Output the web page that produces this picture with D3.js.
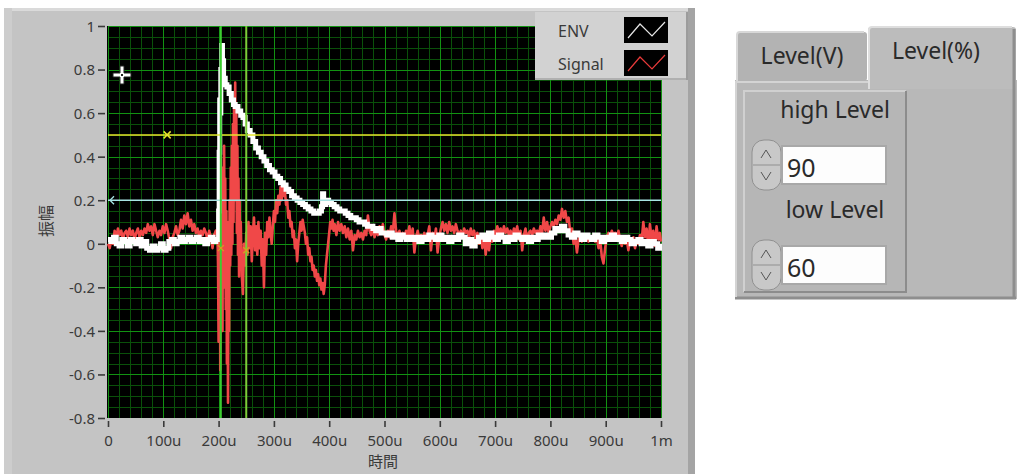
<!DOCTYPE html>
<html><head><meta charset="utf-8">
<script src="https://cdn.jsdelivr.net/npm/d3@7/dist/d3.min.js"></script>
<style>
html,body{margin:0;padding:0;background:#fff;}
svg{display:block;}
text{font-family:"Noto Sans","Noto Sans CJK JP",sans-serif;}
</style>
</head><body>
<svg id="c" width="1024" height="474"></svg>
<script>
// ---------------- data ----------------
const xTickValues = [0,100,200,300,400,500,600,700,800,900,1000];          // microseconds
const xTickLabels = ["0","100u","200u","300u","400u","500u","600u","700u","800u","900u","1m"];
const yTickValues = [-0.8,-0.6,-0.4,-0.2,0,0.2,0.4,0.6,0.8,1];
const yTickLabels = ["-0.8","-0.6","-0.4","-0.2","0","0.2","0.4","0.6","0.8","1"];
const seriesNames = ["ENV","Signal"];
const xTitle = "時間";
const yTitle = "振幅";
const cursorTimes = [204, 250];
const cursorMarkValues = [-0.02, -0.03];
const levelLines = [0.5, 0.2];
const levelMarkTime = 107;
const tabLabels = ["Level(V)","Level(%)"];
const controlLabels = ["high Level","low Level"];
const controlValues = ["90","60"];

// [time (us), amplitude]
const envPoints = [
[0,0.02],[5,0.01],[10,0.03],[15,0.00],[20,-0.01],[25,0.02],[30,0.01],[35,-0.01],[40,0.02],[45,0.01],
[50,0.00],[55,0.02],[60,-0.01],[65,0.01],[70,-0.02],[75,-0.03],[80,-0.01],[85,-0.03],[90,-0.02],[95,0.00],
[100,-0.03],[105,-0.02],[110,0.01],[115,0.02],[120,0.00],[125,0.01],[130,0.03],[135,0.01],[140,0.02],[145,0.03],
[150,0.01],[155,0.02],[160,0.03],[165,0.01],[170,0.02],[175,0.00],[180,0.02],[185,0.03],[190,0.01],[195,0.02],
[199,0.02],[200,0.15],[201,0.42],[202,0.66],[203,0.60],[204,0.80],[206,0.91],[207,0.84],[209,0.76],[212,0.73],
[215,0.72],[219,0.69],[223,0.66],[227,0.64],[230,0.63],[235,0.61],[240,0.59],[244,0.58],[248,0.55],[252,0.52],
[257,0.50],[262,0.47],[267,0.44],[272,0.42],[277,0.40],[282,0.38],[287,0.36],[292,0.34],[297,0.33],[302,0.31],
[307,0.30],[312,0.28],[317,0.27],[322,0.25],[327,0.24],[332,0.22],[337,0.21],[342,0.20],[347,0.19],[352,0.18],
[357,0.17],[362,0.16],[367,0.15],[372,0.14],[377,0.14],[382,0.15],[386,0.17],[388,0.23],[390,0.18],[394,0.20],
[399,0.19],[404,0.18],[409,0.17],[414,0.16],[419,0.15],[424,0.15],[429,0.14],[434,0.13],[439,0.12],[444,0.12],
[449,0.11],[454,0.10],[459,0.10],[464,0.09],[469,0.08],[474,0.08],[479,0.07],[484,0.06],[489,0.07],[494,0.05],
[499,0.05],[504,0.04],[509,0.05],[514,0.03],[519,0.04],[524,0.02],[529,0.04],[534,0.03],[539,0.02],[544,0.03],
[550,0.02],[556,0.03],[562,0.01],[568,0.03],[574,0.02],[580,0.04],[586,0.03],[592,0.02],[598,0.04],[604,0.02],
[610,0.03],[616,0.01],[622,0.03],[628,0.02],[634,0.04],[640,0.03],[646,0.00],[652,0.02],[658,-0.01],[664,0.01],
[670,0.03],[676,0.04],[682,0.02],[688,0.05],[694,0.03],[700,0.02],[706,0.04],[712,0.03],[718,0.01],[724,0.03],
[730,0.02],[736,0.04],[742,0.03],[748,0.02],[754,0.03],[760,0.01],[766,0.03],[772,0.02],[778,0.04],[784,0.03],
[790,0.04],[796,0.03],[802,0.05],[808,0.07],[814,0.06],[820,0.08],[826,0.06],[832,0.04],[838,0.03],[844,0.05],
[850,0.04],[856,0.02],[862,0.04],[868,0.03],[874,0.02],[880,0.04],[886,0.03],[892,0.01],[898,0.03],[904,0.02],
[910,0.04],[916,0.02],[922,0.03],[928,0.01],[934,0.03],[940,0.02],[946,0.00],[952,0.01],[958,0.02],[964,0.00],
[970,0.01],[976,-0.01],[982,0.01],[988,0.00],[994,-0.02],[1000,0.00]
];

const signalPoints = [
[0,0.00],[3,-0.02],[6,0.02],[9,0.00],[12,0.06],[15,0.03],[18,0.07],[21,0.04],[24,0.06],[27,0.02],
[30,0.05],[33,0.06],[36,0.03],[39,0.07],[42,0.04],[45,0.06],[48,0.02],[51,0.05],[54,0.07],[57,0.03],
[60,0.06],[63,0.04],[66,0.07],[69,0.05],[72,0.09],[75,0.06],[78,0.08],[81,0.04],[84,0.09],[87,0.06],
[90,0.03],[93,0.06],[96,0.04],[99,0.08],[102,0.05],[105,0.09],[108,0.06],[111,0.02],[114,-0.02],[117,0.03],
[120,0.05],[123,0.08],[126,0.04],[129,0.06],[132,0.11],[135,0.07],[138,0.13],[141,0.09],[144,0.14],[147,0.08],
[150,0.11],[153,0.06],[156,0.09],[159,0.05],[162,0.07],[165,0.03],[168,0.06],[171,0.04],[174,0.07],[177,0.05],
[180,0.02],[183,0.06],[186,0.03],[189,-0.02],[192,0.04],[195,0.06],[198,0.04],
[199,-0.10],[200,-0.45],[201,0.30],[202,0.67],[203,-0.58],[204,0.50],[205,-0.30],[206,0.20],[207,-0.40],
[208,0.35],[209,-0.10],[210,0.45],[211,-0.20],[212,0.30],[213,-0.30],[214,0.15],[215,-0.55],[216,0.10],[217,-0.73],
[218,0.05],[219,-0.40],[220,0.20],[221,-0.10],[222,0.35],[223,-0.05],[224,0.45],[225,0.00],[226,0.55],[227,0.10],
[228,0.65],[229,0.20],[230,0.74],[231,0.30],[232,0.60],[233,0.05],[234,0.45],[235,-0.05],[236,0.30],[237,-0.15],
[238,0.20],[239,-0.10],[240,0.10],[242,-0.15],[244,-0.23],[246,0.00],[248,-0.10],[250,0.05],[252,-0.05],[254,0.10],
[256,-0.02],[258,0.08],[260,-0.08],[262,0.05],[264,0.12],[266,-0.03],[268,0.08],[270,-0.05],[272,0.10],[274,-0.02],
[276,0.06],[278,-0.10],[280,0.02],[282,-0.20],[284,0.05],[286,-0.05],[288,0.10],[290,0.03],[292,0.12],[294,0.05],
[296,0.00],[298,0.08],[300,0.15],[302,0.10],[304,0.20],[306,0.14],[308,0.22],[310,0.18],[312,0.26],[314,0.20],
[316,0.27],[318,0.22],[320,0.24],[322,0.18],[324,0.20],[326,0.12],[328,0.15],[330,0.08],[332,0.10],[334,0.03],
[336,0.06],[338,-0.02],[340,0.02],[342,-0.08],[344,0.00],[346,0.05],[348,0.10],[350,0.06],[352,0.11],[354,0.08],
[356,0.05],[358,0.00],[360,0.03],[362,-0.05],[364,-0.02],[366,-0.08],[368,-0.06],[370,-0.12],[372,-0.10],[374,-0.15],
[376,-0.12],[378,-0.17],[380,-0.14],[382,-0.19],[384,-0.16],[386,-0.21],[388,-0.18],[390,-0.23],[392,-0.19],[394,-0.10],
[396,-0.05],[398,0.00],[400,0.05],[402,0.10],[404,0.07],[406,0.11],[408,0.06],[410,0.09],[413,0.04],[416,0.10],
[419,0.06],[422,0.09],[425,0.05],[428,0.08],[431,0.03],[434,0.07],[437,0.02],[440,0.06],[443,-0.03],[446,0.04],
[449,0.02],[452,0.06],[455,0.03],[458,0.05],[461,0.02],[464,0.06],[467,0.04],[470,0.13],[473,0.06],[476,0.04],
[479,0.07],[482,0.03],[485,0.06],[488,0.04],[491,0.08],[494,0.05],[497,0.09],[500,0.04],[503,0.02],[506,0.06],
[509,0.03],[512,0.08],[515,0.05],[518,0.14],[521,0.06],[524,0.03],[527,0.06],[530,0.02],[533,0.05],
[536,0.03],[539,0.06],[542,0.04],[545,0.08],[548,0.02],[551,0.07],[554,-0.04],[557,0.03],[560,0.06],[563,0.02],
[566,0.04],[569,0.02],[572,0.05],[575,0.02],[578,0.04],[581,0.08],[584,-0.03],[587,0.05],[590,0.02],[593,0.07],
[596,-0.04],[599,0.03],[602,0.07],[605,0.10],[608,0.06],[611,0.09],[614,0.05],[617,0.10],[620,0.06],[623,0.08],
[626,0.05],[629,0.09],[632,0.06],[635,0.04],[638,0.06],[641,0.03],[644,0.07],[647,0.05],[650,0.06],[653,0.03],
[656,0.07],[659,0.04],[662,0.06],[665,0.02],[668,0.05],[671,0.00],[674,0.04],[677,-0.02],[680,0.03],[683,-0.05],
[686,0.02],[689,-0.03],[692,0.04],[695,0.01],[698,0.06],[701,0.04],[704,0.08],[707,0.05],[710,0.07],[713,0.04],
[716,0.08],[719,0.05],[722,0.07],[725,0.04],[728,0.06],[731,0.03],[734,0.07],[737,0.05],[740,0.08],[743,0.02],
[746,0.06],[749,-0.03],[752,0.04],[755,0.07],[758,0.01],[761,0.05],[764,0.06],[767,0.04],[770,0.07],[773,0.05],
[776,0.06],[779,0.04],[782,0.08],[785,0.05],[788,0.12],[791,0.06],[794,0.10],[797,0.05],[800,0.08],[803,0.10],
[806,0.08],[809,0.11],[812,0.09],[815,0.13],[818,0.11],[821,0.16],[824,0.12],[827,0.15],[830,0.10],[833,0.12],
[836,0.05],[839,0.07],[842,0.00],[845,0.03],[848,-0.04],[851,0.02],[854,0.04],[857,0.01],[860,0.03],[863,0.02],
[866,0.04],[869,0.01],[872,0.03],[875,0.02],[878,0.04],[881,0.01],[884,0.03],[887,-0.02],[890,0.02],[893,-0.06],
[896,-0.09],[899,-0.02],[902,0.03],[905,0.05],[908,0.03],[911,0.06],[914,0.04],[917,0.05],[920,0.03],[923,0.06],
[926,0.02],[929,-0.01],[932,0.03],[935,0.00],[938,0.02],[941,-0.03],[944,0.02],[947,0.00],[950,0.03],[953,-0.02],
[956,0.02],[959,0.00],[962,0.04],[965,0.01],[968,0.10],[971,0.03],[974,0.07],[977,-0.01],[980,0.09],[983,0.02],
[986,0.06],[989,-0.01],[992,0.08],[995,0.02],[998,0.05],[1000,0.01]
];

// ---------------- drawing ----------------
const svg = d3.select("#c");
const plot = {left:108, right:661, top:26, bottom:418};
const x = d3.scaleLinear().domain([0,1000]).range([plot.left, plot.right]);
const y = d3.scaleLinear().domain([-0.8,1]).range([plot.bottom, plot.top]);

// left panel
svg.append("rect").attr("x",4).attr("y",8).attr("width",691).attr("height",466).attr("fill","#c4c4c4");
svg.append("rect").attr("x",4).attr("y",8).attr("width",691).attr("height",3).attr("fill","#dadada");
svg.append("rect").attr("x",4).attr("y",8).attr("width",8).attr("height",466).attr("fill","#cdcdcd");
svg.append("rect").attr("x",688).attr("y",8).attr("width",7).attr("height",466).attr("fill","#a4a4a4");

// plot background
svg.append("rect").attr("x",plot.left-1).attr("y",plot.top).attr("width",plot.right-plot.left+2)
  .attr("height",plot.bottom-plot.top).attr("fill","#000");

svg.append("clipPath").attr("id","pc").append("rect")
  .attr("x",plot.left-1).attr("y",plot.top).attr("width",plot.right-plot.left+2).attr("height",plot.bottom-plot.top);
const g = svg.append("g").attr("clip-path","url(#pc)");

// grid
const xMinor = d3.range(0,1001,20), yMinor = d3.range(-0.8,1.0001,0.05);
g.selectAll(".xm").data(xMinor).join("line").attr("x1",d=>Math.round(x(d))+0.5).attr("x2",d=>Math.round(x(d))+0.5)
  .attr("y1",plot.top).attr("y2",plot.bottom).attr("stroke","#0a500a").attr("stroke-width",1);
g.selectAll(".ym").data(yMinor).join("line").attr("y1",d=>Math.round(y(d))+0.5).attr("y2",d=>Math.round(y(d))+0.5)
  .attr("x1",plot.left).attr("x2",plot.right).attr("stroke","#0a500a").attr("stroke-width",1);
g.selectAll(".xM").data(xTickValues).join("line").attr("x1",d=>Math.round(x(d))+0.5).attr("x2",d=>Math.round(x(d))+0.5)
  .attr("y1",plot.top).attr("y2",plot.bottom).attr("stroke","#129212").attr("stroke-width",1);
g.selectAll(".yM").data(yTickValues).join("line").attr("y1",d=>Math.round(y(d))+0.5).attr("y2",d=>Math.round(y(d))+0.5)
  .attr("x1",plot.left).attr("x2",plot.right).attr("stroke","#129212").attr("stroke-width",1);

// series
const line = d3.line().x(d=>x(d[0])).y(d=>y(d[1]));
g.append("path").datum(signalPoints).attr("d",line).attr("fill","none").attr("stroke","#f04848").attr("stroke-width",2.6).attr("stroke-linejoin","round");
g.append("path").datum(envPoints).attr("d",line.curve(d3.curveStepAfter)).attr("fill","none").attr("stroke","#ffffff").attr("stroke-width",5).attr("stroke-linejoin","miter");

// level lines and cursors
g.append("line").attr("x1",plot.left).attr("x2",plot.right).attr("y1",y(levelLines[0])).attr("y2",y(levelLines[0]))
  .attr("stroke","#e6e62a").attr("stroke-width",1.5);
g.append("line").attr("x1",plot.left).attr("x2",plot.right).attr("y1",y(levelLines[1])).attr("y2",y(levelLines[1]))
  .attr("stroke","#a8e4e4").attr("stroke-width",1.5);
const cursorColors = ["#3ccc30","#7ccc38"];
cursorTimes.forEach((t,i)=>{
  g.append("line").attr("x1",x(t)).attr("x2",x(t)).attr("y1",plot.top).attr("y2",plot.bottom)
    .attr("stroke",cursorColors[i]).attr("stroke-width",2);
  const cx = x(t), cy = y(cursorMarkValues[i]);
  g.append("path").attr("d",`M${cx-3},${cy-3}L${cx+3},${cy+3}M${cx-3},${cy+3}L${cx+3},${cy-3}`)
    .attr("stroke","#d6a020").attr("stroke-width",1.3);
});
{
  const mx = x(levelMarkTime), my = y(levelLines[0]);
  g.append("path").attr("d",`M${mx-3.5},${my-3.5}L${mx+3.5},${my+3.5}M${mx-3.5},${my+3.5}L${mx+3.5},${my-3.5}`)
    .attr("stroke","#e6e62a").attr("stroke-width",1.5);
  const ay = y(levelLines[1]), ax = plot.left+1;
  g.append("path").attr("d",`M${ax+5},${ay-4}L${ax+1},${ay}L${ax+5},${ay+4}`).attr("fill","none")
    .attr("stroke","#a8e4e4").attr("stroke-width",1.3);
}
// mouse pointer cross
{
  const px=122, py=75;
  const p = `M${px-2},${py-9}h4v7h7v4h-7v7h-4v-7h-7v-4h7z`;
  svg.append("path").attr("d",p).attr("fill","#fff").attr("stroke","#222").attr("stroke-width",1);
  svg.append("rect").attr("x",px-1).attr("y",py-1).attr("width",2).attr("height",2).attr("fill","#222");
}

// axes
const yAxis = d3.axisLeft(y).tickValues(yTickValues).tickFormat((d,i)=>yTickLabels[i]).tickSize(7).tickPadding(3);
const ya = svg.append("g").attr("transform",`translate(${plot.left-3},0)`).call(yAxis);
ya.select(".domain").remove();
ya.selectAll("line").attr("stroke","#3a3a3a").attr("stroke-width",1.6);
ya.selectAll("text").attr("fill","#3a3a3a").style("font-size","15px").attr("dy","0.36em");

const xAxis = d3.axisBottom(x).tickValues(xTickValues).tickFormat((d,i)=>xTickLabels[i]).tickSize(6).tickPadding(8);
const xa = svg.append("g").attr("transform",`translate(0,${plot.bottom+3})`).call(xAxis);
xa.select(".domain").remove();
xa.selectAll("line").attr("stroke","#3a3a3a").attr("stroke-width",1.6);
xa.selectAll("text").attr("fill","#3a3a3a").style("font-size","15px");

svg.append("text").attr("x",383).attr("y",467).attr("text-anchor","middle").attr("fill","#3a3a3a")
  .style("font-size","15px").text(xTitle);
svg.append("text").attr("transform","translate(52,221) rotate(-90)").attr("text-anchor","middle").attr("fill","#3a3a3a")
  .style("font-size","16px").text(yTitle);

// legend
svg.append("rect").attr("x",535).attr("y",12).attr("width",153).attr("height",68).attr("fill","#d2d2d2");
svg.append("rect").attr("x",535).attr("y",78).attr("width",153).attr("height",2).attr("fill","#b0b0b0");
svg.append("rect").attr("x",686).attr("y",12).attr("width",2).attr("height",68).attr("fill","#9c9c9c");
const legendColors = ["#e6e6e6","#e83a3a"];
seriesNames.forEach((n,i)=>{
  const ty = [37,70][i], ry = [17,50][i];
  svg.append("text").attr("x",558).attr("y",ty).attr("fill","#3a3a3a").style("font-size","16px").text(n);
  svg.append("rect").attr("x",624).attr("y",ry).attr("width",44).attr("height",26).attr("fill","#000");
  svg.append("path").attr("d",`M628,${ry+21}L640,${ry+7}L652,${ry+19}L665,${ry+5}`).attr("fill","none")
    .attr("stroke",legendColors[i]).attr("stroke-width",1.2);
});

// right panel (tab control)
const rp = svg.append("g");
rp.append("rect").attr("x",735).attr("y",80).attr("width",282).attr("height",219).attr("fill","#b8b8b8");
// inactive tab
rp.append("rect").attr("x",737).attr("y",32).attr("width",130).attr("height",49).attr("fill","#b3b3b3").attr("rx",3);
rp.append("path").attr("d","M737,81V35Q737,32 740,32H864").attr("fill","none").attr("stroke","#d8d8d8").attr("stroke-width",2);
// active tab
rp.append("rect").attr("x",868).attr("y",27).attr("width",148).attr("height",62).attr("fill","#bcbcbc").attr("rx",3);
rp.append("path").attr("d","M869,89V30Q869,27 872,27H1012").attr("fill","none").attr("stroke","#dedede").attr("stroke-width",2);
rp.append("path").attr("d","M1014,29V298").attr("fill","none").attr("stroke","#8e8e8e").attr("stroke-width",3);
rp.append("path").attr("d","M735,298H1016").attr("fill","none").attr("stroke","#8e8e8e").attr("stroke-width",3);
rp.append("path").attr("d","M736,297V82H868").attr("fill","none").attr("stroke","#d4d4d4").attr("stroke-width",2);
// cluster
rp.append("rect").attr("x",743).attr("y",90).attr("width",164).attr("height",203).attr("fill","#b6b6b6");
rp.append("path").attr("d","M744,292V91H906").attr("fill","none").attr("stroke","#d0d0d0").attr("stroke-width",2);
rp.append("path").attr("d","M906,91V292H744").attr("fill","none").attr("stroke","#8c8c8c").attr("stroke-width",2);

rp.append("text").attr("x",802).attr("y",64).attr("text-anchor","middle").attr("fill","#2a2a2a").style("font-size","23px").text(tabLabels[0]);
rp.append("text").attr("x",936).attr("y",59).attr("text-anchor","middle").attr("fill","#2a2a2a").style("font-size","23px").text(tabLabels[1]);

const ctlY = [100, 200];
controlLabels.forEach((lab,i)=>{
  const top = ctlY[i];
  rp.append("text").attr("x",835).attr("y",top+18).attr("text-anchor","middle").attr("fill","#2a2a2a").style("font-size","23px").text(lab);
  // spin buttons
  const sy = top+40;
  rp.append("rect").attr("x",752).attr("y",sy).attr("width",29).attr("height",50).attr("rx",12).attr("fill","#c8c8c8").attr("stroke","#909090");
  rp.append("line").attr("x1",753).attr("x2",780).attr("y1",sy+25).attr("y2",sy+25).attr("stroke","#909090");
  rp.append("path").attr("d",`M761,${sy+18}L766,${sy+10}L771,${sy+18}`).attr("fill","none").attr("stroke","#555").attr("stroke-width",1);
  rp.append("path").attr("d",`M761,${sy+32}L766,${sy+40}L771,${sy+32}`).attr("fill","none").attr("stroke","#555").attr("stroke-width",1);
  // numeric box
  rp.append("rect").attr("x",781).attr("y",sy+5).attr("width",106).attr("height",40).attr("fill","#a8a8a8");
  rp.append("rect").attr("x",783).attr("y",sy+7).attr("width",102).attr("height",36).attr("fill","#fdfdfd");
  rp.append("text").attr("x",787).attr("y",sy+37).attr("fill","#2a2a2a").style("font-size","25px").text(controlValues[i]);
});
</script>
</body></html>
